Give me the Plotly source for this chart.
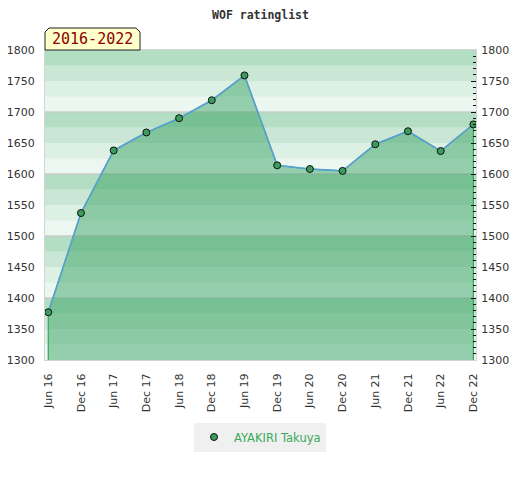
import plotly.graph_objects as go

# half-year rating snapshots
periods = ['Jun 16', 'Dec 16', 'Jun 17', 'Dec 17', 'Jun 18', 'Dec 18', 'Jun 19',
           'Dec 19', 'Jun 20', 'Dec 20', 'Jun 21', 'Dec 21', 'Jun 22', 'Dec 22']
ratings = [1377, 1537, 1638, 1667, 1690, 1719, 1759,
           1614, 1608, 1605, 1648, 1669, 1637, 1680]
player = 'AYAKIRI Takuya'
span_label = '2016-2022'

y_min, y_max = 1300, 1800
xs = list(range(len(periods)))

fig = go.Figure()

# striped background, 4 shades per 100 points (darkest on top)
shade = [0.09, 0.18, 0.28, 0.39]
for lo in range(y_min, y_max, 25):
    k = (lo % 100) // 25
    fig.add_shape(type='rect', xref='paper', yref='y', x0=0, x1=1, y0=lo, y1=lo + 25,
                  fillcolor=f'rgba(60,170,100,{shade[k]})', line_width=0, layer='below')
# grey separators every 100 points
for lv in range(y_min + 100, y_max, 100):
    fig.add_shape(type='line', xref='paper', yref='y', x0=0, x1=1, y0=lv, y1=lv,
                  line=dict(color='rgba(200,200,200,0.9)', width=1.5), layer='below')

# area under the rating line
fig.add_trace(go.Scatter(
    x=[xs[0]] + xs + [xs[-1]], y=[y_min - 20] + ratings + [y_min - 20],
    fill='toself', fillcolor='rgba(50,160,95,0.47)', mode='lines',
    line=dict(color='#2eaa55', width=1.2), hoverinfo='skip', showlegend=False))

fig.add_trace(go.Scatter(
    x=xs, y=ratings, mode='lines', line=dict(color='#5b9fd6', width=1.6),
    hoverinfo='skip', showlegend=False))

fig.add_trace(go.Scatter(
    x=xs, y=ratings, mode='markers', name=player,
    marker=dict(color='#3a9d5d', size=7, line=dict(color='#111', width=1))))

# invisible trace so the right axis is drawn
fig.add_trace(go.Scatter(x=[xs[0]], y=[ratings[0]], yaxis='y2', mode='markers',
                         marker=dict(opacity=0), hoverinfo='skip', showlegend=False))

# year-span tag with chamfered top corners
x1, y1, cx, cy = 95 / 431, 1 + 22 / 310, 4 / 431, 4 / 310
fig.add_shape(type='path', xref='paper', yref='paper',
              path=f'M 0 1 L 0 {y1 - cy} L {cx} {y1} L {x1 - cx} {y1} L {x1} {y1 - cy} L {x1} 1 Z',
              fillcolor='#ffffcc', line=dict(color='#222', width=1))
fig.add_annotation(xref='paper', yref='paper', x=x1 / 2, y=1 + 11 / 310, text=span_label,
                   xanchor='center', yanchor='middle', showarrow=False,
                   font=dict(family='DejaVu Sans Mono', size=15, color='#8b0000'))

axis_font = dict(family='DejaVu Sans', size=11, color='#333')

fig.update_layout(
    width=520, height=480,
    margin=dict(l=37, r=52, t=42, b=128),
    paper_bgcolor='white', plot_bgcolor='white',
    title=dict(text='<b>WOF ratinglist</b>', x=(37 + 431 / 2) / 520, xanchor='center',
               y=1 - 3 / 480, yanchor='top', pad=dict(t=0, b=0),
               font=dict(family='DejaVu Sans Mono', size=11.5, color='#333')),
    xaxis=dict(range=[-0.1, len(periods) - 1 + 0.08], tickvals=xs, ticktext=periods,
               tickangle=-90, tickfont=axis_font, showgrid=False, zeroline=False,
               showline=True, linecolor='#d4d4d4', mirror=True, ticks='',
               ticklabelstandoff=8, automargin=False),
    yaxis=dict(range=[y_min, y_max], dtick=50, tickfont=axis_font, showgrid=False,
               zeroline=False, showline=True, linecolor='#d4d4d4', ticks='',
               ticklabelstandoff=7, automargin=False),
    yaxis2=dict(range=[y_min, y_max], overlaying='y', side='right', dtick=50,
                tickfont=axis_font, showgrid=False, zeroline=False, showline=True,
                linecolor='#d4d4d4', ticks='inside', ticklen=5, tickcolor='#111',
                ticklabelstandoff=2, automargin=False,
                minor=dict(dtick=10, ticks='inside', ticklen=3, tickcolor='#111')),
    legend=dict(x=(260 - 8 - 37) / 431, y=-(437 - 360) / 310, xanchor='center',
                yanchor='middle', bgcolor='#f0f0f0', itemwidth=30,
                font=dict(family='DejaVu Sans', size=11.5, color='#3aaa5a')),
    showlegend=True,
)

fig.write_html('out.html')
